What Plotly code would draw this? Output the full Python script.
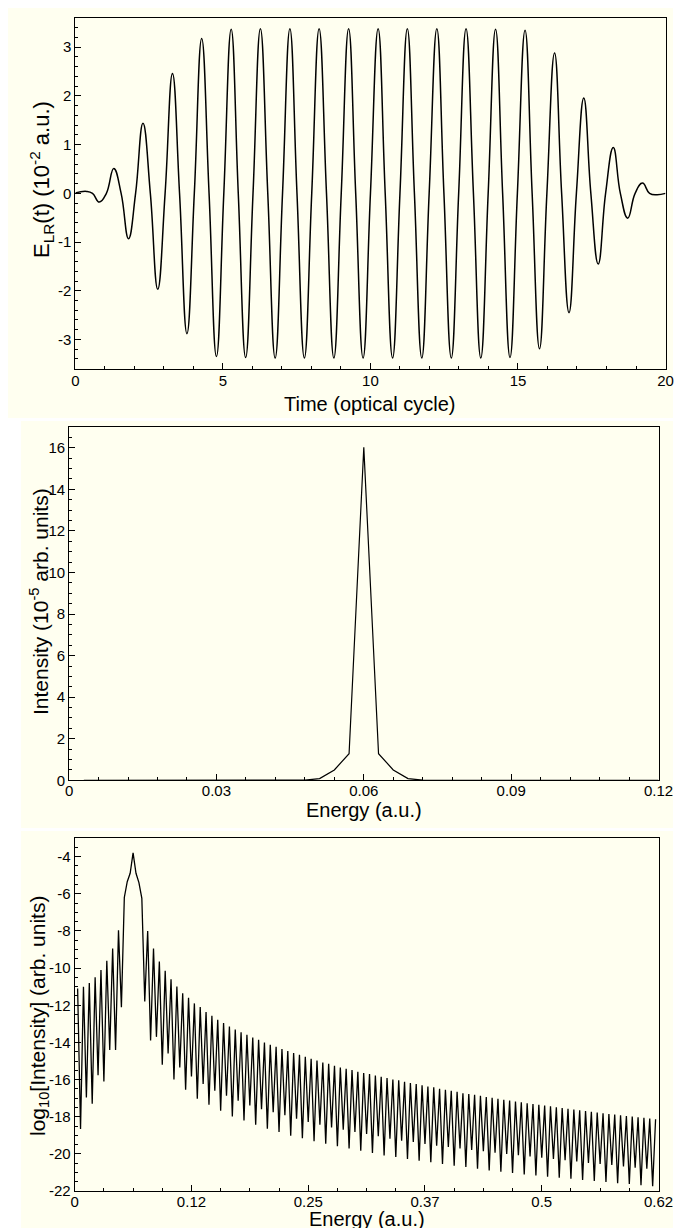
import plotly.graph_objects as go

# ---------------- Panel 1: laser field E_LR(t) ----------------
t_extrema = [0.00, 0.38, 0.81, 1.30, 1.80, 2.29, 2.79, 3.29, 3.78, 4.28, 4.78,
             5.28, 5.77, 6.27, 6.77, 7.27, 7.76, 8.26, 8.76, 9.26, 9.75, 10.26,
             10.75, 11.25, 11.74, 12.25, 12.74, 13.24, 13.74, 14.24, 14.73, 15.24,
             15.73, 16.24, 16.73, 17.23, 17.72, 18.23, 18.72, 19.22, 19.71, 20.00]
e_extrema = [0.01, 0.04, -0.18, 0.51, -0.93, 1.44, -1.97, 2.46, -2.88, 3.18, -3.35,
             3.37, -3.37, 3.38, -3.38, 3.38, -3.38, 3.38, -3.38, 3.38, -3.38, 3.38,
             -3.38, 3.38, -3.38, 3.38, -3.38, 3.38, -3.38, 3.37, -3.37, 3.35,
             -3.19, 2.88, -2.45, 1.96, -1.45, 0.94, -0.51, 0.21, -0.03, 0.00]
t_zero = [0.58, 1.05, 1.55, 2.04, 2.54, 3.04, 3.53, 4.03, 4.53, 5.03, 5.52, 6.02,
          6.52, 7.02, 7.51, 8.01, 8.51, 9.01, 9.50, 10.00, 10.50, 11.00, 11.49,
          11.99, 12.49, 12.99, 13.49, 13.99, 14.48, 14.98, 15.48, 15.98, 16.48,
          16.98, 17.47, 17.97, 18.47, 18.97, 19.46]

# ---------------- Panel 2: spectrum (linear) ----------------
energy2 = [0.003, 0.006, 0.009, 0.012, 0.015, 0.018, 0.021, 0.024, 0.027, 0.030,
           0.033, 0.036, 0.039, 0.042, 0.045, 0.048, 0.051, 0.054, 0.057, 0.060,
           0.063, 0.066, 0.069, 0.072, 0.075, 0.078, 0.081, 0.084, 0.087, 0.090,
           0.093, 0.096, 0.099, 0.102, 0.105, 0.108, 0.111, 0.114, 0.117, 0.120]
intensity2 = [0, 0, 0, 0, 0, 0, 0, 0, 0, 0,
              0, 0, 0, 0, 0, 0.01, 0.08, 0.50, 1.28, 16.02,
              1.28, 0.50, 0.08, 0.01, 0, 0, 0, 0, 0, 0,
              0, 0, 0, 0, 0, 0, 0, 0, 0, 0]

# ---------------- Panel 3: spectrum (log10) ----------------
energy_step3 = 0.0031
n_points3 = 199
log_left = [-11.1, -18.66, -11.0, -16.96, -10.8, -17.3, -10.5, -15.76, -10.1, -16.1,
            -9.6, -14.4, -8.95, -14.4, -7.96, -12.1]
log_peak = [-6.2, -5.35, -4.9, -3.8, -4.9, -5.4, -6.25]
log_highs = [-8.0, -8.95, -9.65, -10.15, -10.6, -10.99, -11.35, -11.6, -11.9, -12.1,
             -12.37, -12.57, -12.78, -12.96, -13.14, -13.3, -13.46, -13.59, -13.73, -13.86,
             -14.0, -14.12, -14.24, -14.35, -14.46, -14.57, -14.67, -14.77, -14.88, -14.97,
             -15.08, -15.15, -15.26, -15.35, -15.42, -15.49, -15.58, -15.65, -15.7, -15.78,
             -15.85, -15.92, -15.99, -16.04, -16.12, -16.19, -16.24, -16.31, -16.37, -16.42,
             -16.49, -16.55, -16.6, -16.66, -16.73, -16.78, -16.82, -16.87, -16.94, -16.98,
             -17.03, -17.08, -17.13, -17.18, -17.22, -17.27, -17.31, -17.36, -17.4, -17.44,
             -17.49, -17.53, -17.57, -17.61, -17.65, -17.69, -17.73, -17.77, -17.81, -17.85,
             -17.88, -17.92, -17.96, -17.99, -18.03, -18.06, -18.1, -18.13]
log_lows = [-11.8, -13.9, -13.7, -15.2, -14.6, -16.0, -15.35, -16.55, -15.83, -17.03,
            -16.24, -17.35, -16.6, -17.68, -16.87, -17.98, -17.14, -18.2, -17.39, -18.43,
            -17.59, -18.64, -17.76, -18.82, -17.92, -19.02, -18.1, -19.15, -18.28, -19.32,
            -18.43, -19.45, -18.57, -19.59, -18.7, -19.7, -18.82, -19.83, -18.93, -19.95,
            -19.05, -20.08, -19.18, -20.17, -19.29, -20.27, -19.36, -20.36, -19.47, -20.44,
            -19.56, -20.54, -19.63, -20.63, -19.7, -20.7, -19.79, -20.8, -19.86, -20.89,
            -19.93, -20.96, -20.0, -21.03, -20.07, -21.1, -20.14, -21.16, -20.2, -21.22,
            -20.27, -21.28, -20.34, -21.34, -20.41, -21.4, -20.48, -21.46, -20.54, -21.51,
            -20.6, -21.57, -20.67, -21.62, -20.74, -21.68, -20.8, -21.74]

# tick labels
x1_ticks = [0, 5, 10, 15, 20]
y1_ticks = [-3, -2, -1, 0, 1, 2, 3]
x2_ticks = [0, 0.03, 0.06, 0.09, 0.12]
x2_labels = ["0", "0.03", "0.06", "0.09", "0.12"]
y2_ticks = [0, 2, 4, 6, 8, 10, 12, 14, 16]
x3_ticks = [0, 0.124, 0.248, 0.372, 0.496, 0.62]
x3_labels = ["0", "0.12", "0.25", "0.37", "0.5", "0.62"]
y3_ticks = [-22, -20, -18, -16, -14, -12, -10, -8, -6, -4]

# ---------------- build series ----------------
pts1 = sorted(zip(t_extrema + t_zero, e_extrema + [0.0] * len(t_zero)))
t1 = [p[0] for p in pts1]
e1 = [p[1] for p in pts1]

tail = []
for lo, hi in zip(log_lows, log_highs):
    tail += [lo, hi]
log3 = log_left + log_peak + tail
energy3 = [round(energy_step3 * k, 5) for k in range(1, n_points3 + 1)]

W, H = 682, 1228
BG = "#FFFFF0"
FONT = "Liberation Sans, Arial, sans-serif"
TICKF = dict(family=FONT, size=15, color="black")
TITLEF = dict(family=FONT, size=20, color="black")


def px_x(v):
    return v / W


def px_y(v):
    return 1 - v / H


fig = go.Figure()
fig.add_trace(go.Scatter(x=t1, y=e1, mode="lines", xaxis="x", yaxis="y",
                         line=dict(color="black", width=1.5, shape="spline", smoothing=1.3),
                         showlegend=False))
fig.add_trace(go.Scatter(x=energy2, y=intensity2, mode="lines", xaxis="x2", yaxis="y2",
                         line=dict(color="black", width=1.2), showlegend=False))
fig.add_trace(go.Scatter(x=energy3, y=log3, mode="lines", xaxis="x3", yaxis="y3",
                         line=dict(color="black", width=1.3), showlegend=False))


def axis(domain, rng, tickvals, ticktext, minor_dtick, anchor, standoff=0):
    return dict(domain=domain, range=rng, anchor=anchor, automargin=False,
                tickmode="array", tickvals=tickvals, ticktext=ticktext,
                ticks="inside", ticklen=6, tickwidth=1, tickcolor="black",
                ticklabelstandoff=standoff,
                minor=dict(ticks="inside", ticklen=3, tickwidth=1, tickcolor="black",
                           tickmode="linear", tick0=rng[0], dtick=minor_dtick),
                showgrid=False, zeroline=False,
                showline=True, linecolor="black", linewidth=1, mirror=True,
                tickfont=TICKF)


fig.update_layout(
    width=W, height=H,
    margin=dict(l=0, r=0, t=0, b=0),
    paper_bgcolor="white", plot_bgcolor=BG,
    xaxis=axis([px_x(67.4), px_x(657.5)], [0, 20], x1_ticks, [str(v) for v in x1_ticks], 1, "y", -2),
    yaxis=axis([px_y(360.7), px_y(10)], [-3.6, 3.6], y1_ticks, [str(v) for v in y1_ticks], 0.2, "x"),
    xaxis2=axis([px_x(61.1), px_x(650.5)], [0, 0.12], x2_ticks, x2_labels, 0.006, "y2", -3),
    yaxis2=axis([px_y(772.3), px_y(419)], [0, 17], y2_ticks, [str(v) for v in y2_ticks], 0.5, "x2"),
    xaxis3=axis([px_x(66.7), px_x(650.5)], [0, 0.62], x3_ticks, x3_labels, 0.031, "y3", -3),
    yaxis3=axis([px_y(1183.1), px_y(830)], [-22, -3], y3_ticks, [str(v) for v in y3_ticks], 0.5, "x3"),
    shapes=[
        dict(type="rect", xref="paper", yref="paper", x0=0, x1=px_x(665), y0=px_y(410), y1=1,
             fillcolor=BG, line=dict(width=0), layer="below"),
        dict(type="rect", xref="paper", yref="paper", x0=px_x(13), x1=px_x(665), y0=px_y(820), y1=px_y(413),
             fillcolor=BG, line=dict(width=0), layer="below"),
        dict(type="rect", xref="paper", yref="paper", x0=px_x(13), x1=px_x(665), y0=0, y1=px_y(823),
             fillcolor=BG, line=dict(width=0), layer="below"),
    ],
    annotations=[
        dict(text="Time (optical cycle)", x=px_x(362), y=px_y(396), xref="paper", yref="paper",
             showarrow=False, font=TITLEF, xanchor="center", yanchor="middle"),
        dict(text="Energy (a.u.)", x=px_x(355.8), y=px_y(802), xref="paper", yref="paper",
             showarrow=False, font=TITLEF, xanchor="center", yanchor="middle"),
        dict(text="Energy (a.u.)", x=px_x(358.6), y=px_y(1211), xref="paper", yref="paper",
             showarrow=False, font=TITLEF, xanchor="center", yanchor="middle"),
        dict(text="E<sub>LR</sub>(t) (10<sup>-2</sup> a.u.)", x=px_x(33), y=px_y(172),
             xref="paper", yref="paper", showarrow=False, font=dict(family=FONT, size=22, color="black"),
             textangle=-90, xanchor="center", yanchor="middle"),
        dict(text="Intensity (10<sup>-5</sup> arb. units)", x=px_x(31), y=px_y(594),
             xref="paper", yref="paper", showarrow=False, font=dict(family=FONT, size=21, color="black"),
             textangle=-90, xanchor="center", yanchor="middle"),
        dict(text="log<sub>10</sub>[Intensity] (arb. units)", x=px_x(31), y=px_y(1008),
             xref="paper", yref="paper", showarrow=False, font=dict(family=FONT, size=21, color="black"),
             textangle=-90, xanchor="center", yanchor="middle"),
    ],
)

fig.write_html("out.html")
